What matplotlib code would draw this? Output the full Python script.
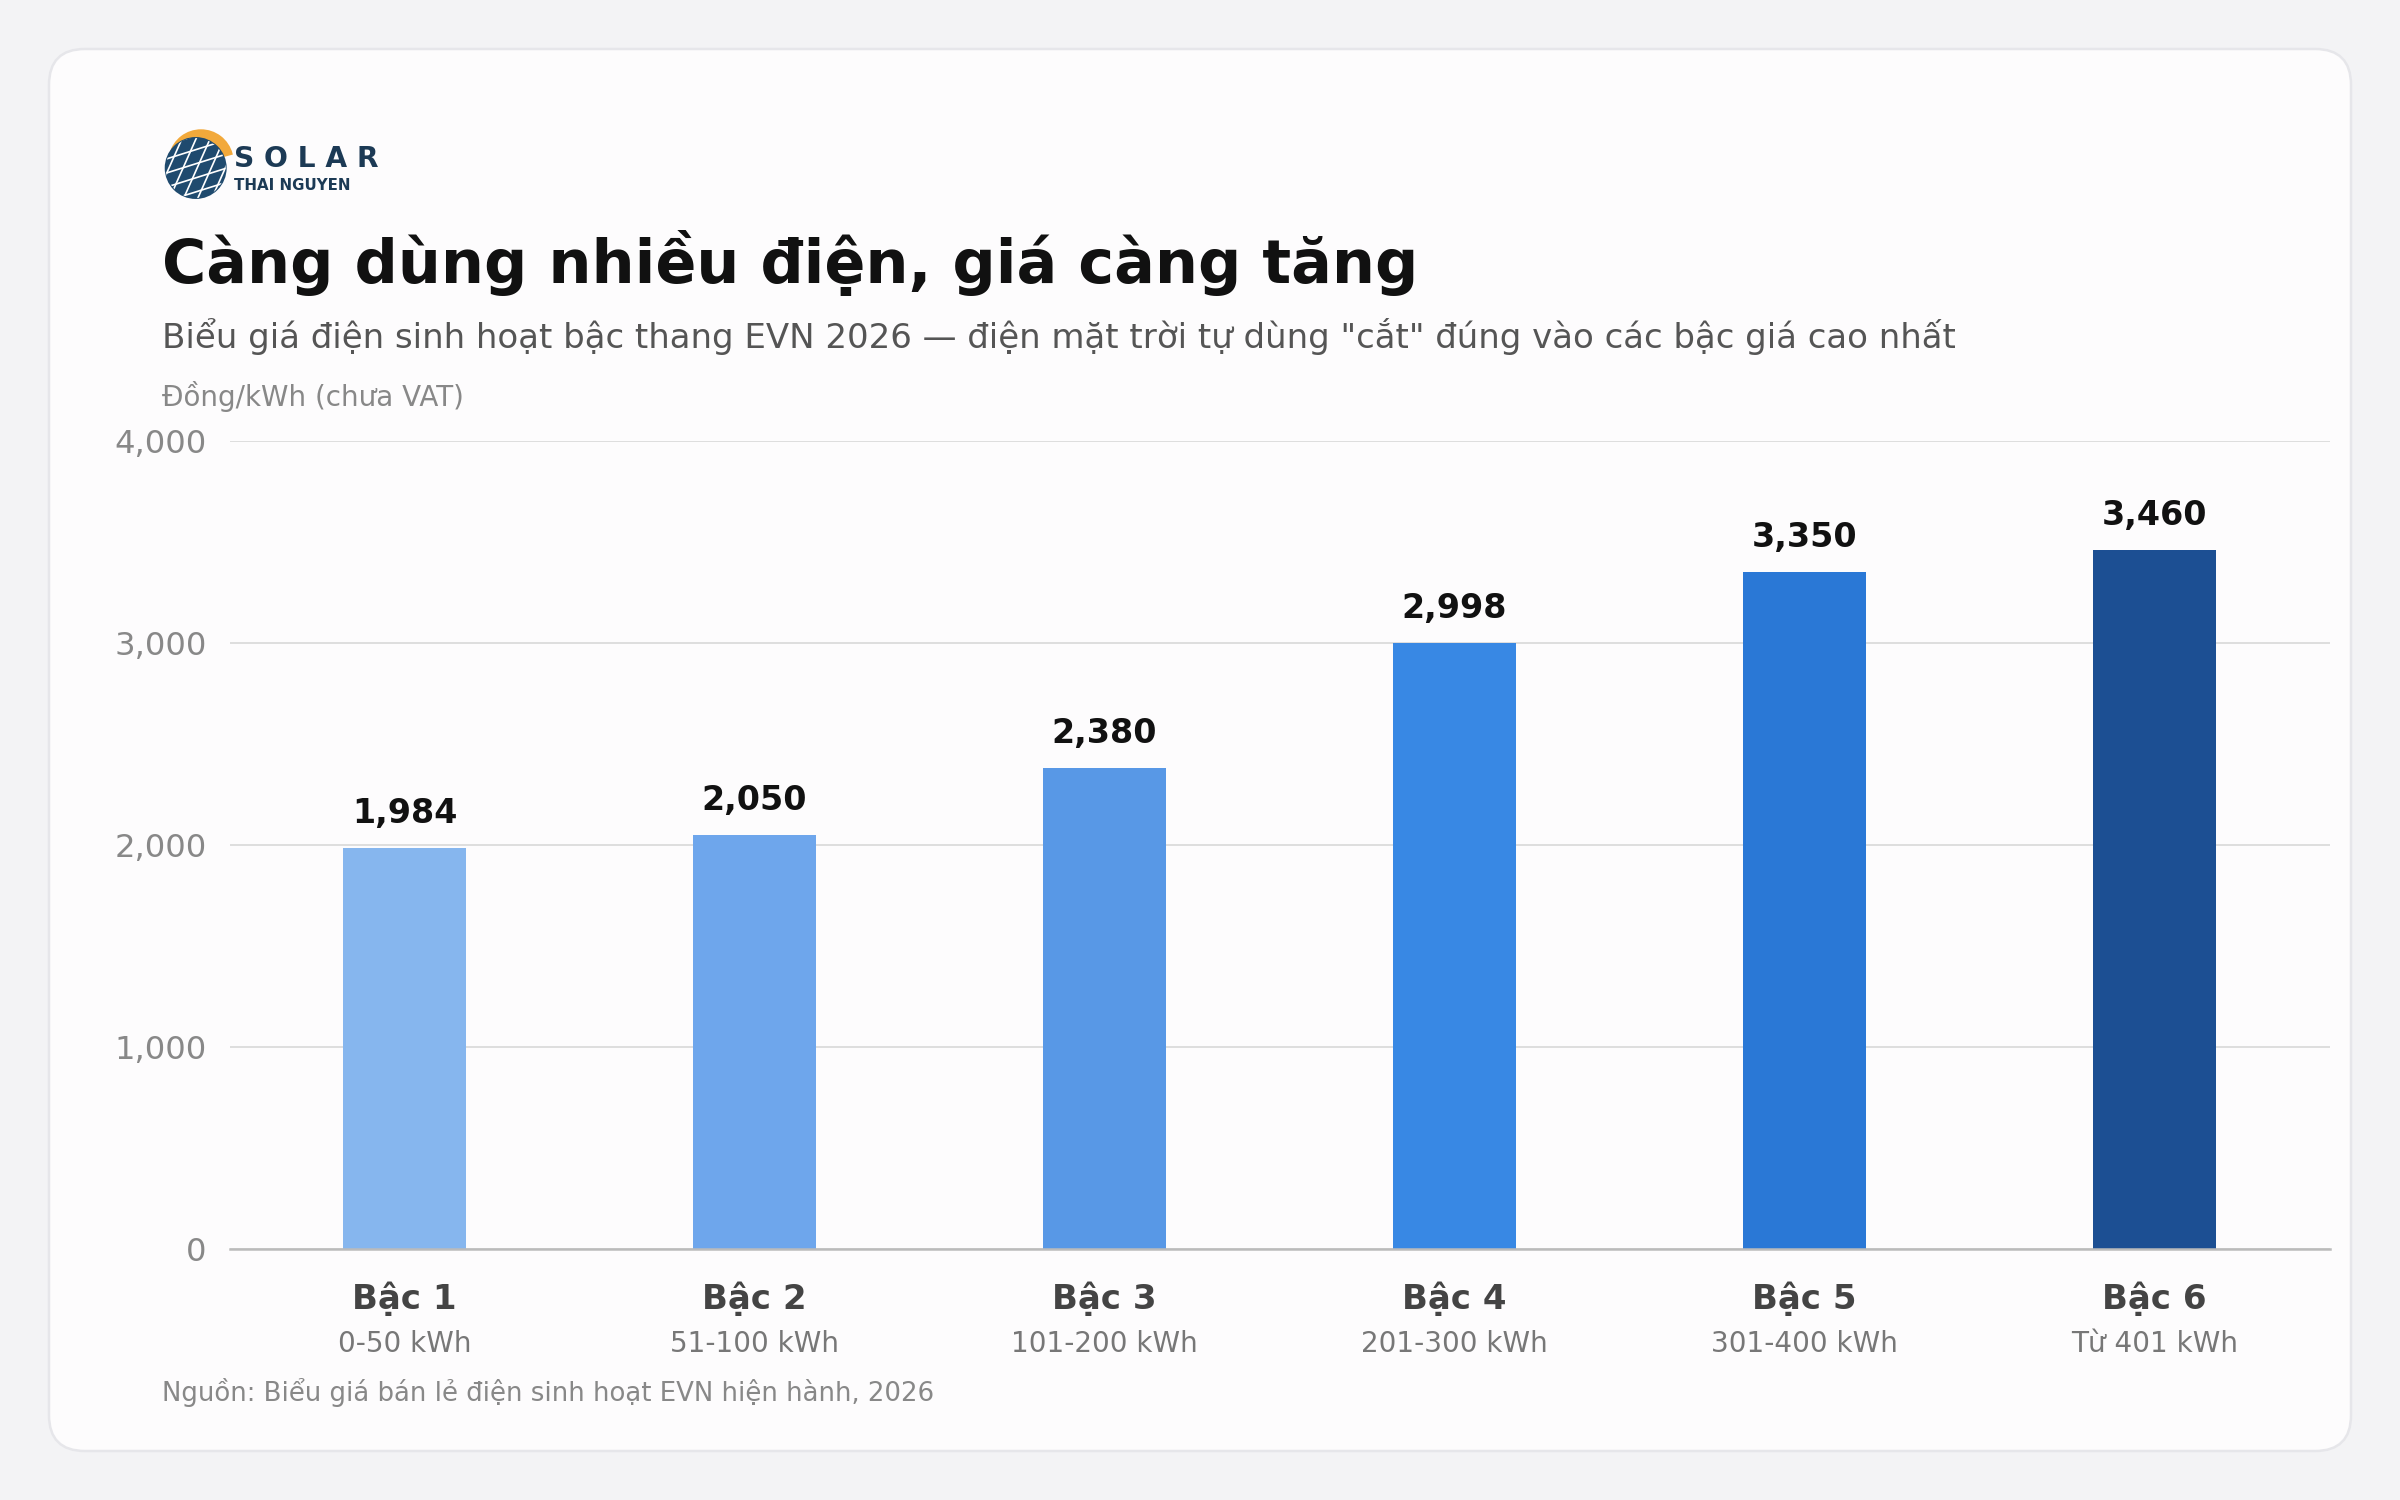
import matplotlib
matplotlib.use("Agg")
import matplotlib.pyplot as plt
from matplotlib.patches import FancyBboxPatch, Circle, Wedge
import numpy as np

categories = ["Bậc 1", "Bậc 2", "Bậc 3", "Bậc 4", "Bậc 5", "Bậc 6"]
ranges = ["0-50 kWh", "51-100 kWh", "101-200 kWh", "201-300 kWh", "301-400 kWh", "Từ 401 kWh"]
prices = [1984, 2050, 2380, 2998, 3350, 3460]
colors = ["#86b6ee", "#6ea6ec", "#5898e6", "#3888e4", "#2a78d6", "#1c4f93"]
yticks = [0, 1000, 2000, 3000, 4000]

W, H = 1568, 980
def fx(x): return x / W
def fy(y): return 1 - y / H

fig = plt.figure(figsize=(16, 10), dpi=150)
fig.patch.set_facecolor("#f3f3f5")
card = FancyBboxPatch((fx(32), fy(948)), fx(1536) - fx(32), fy(32) - fy(948),
                      boxstyle="round,pad=0,rounding_size=0.015", transform=fig.transFigure,
                      facecolor="#fdfcfd", edgecolor="#e6e6ea", linewidth=1.2, mutation_aspect=1.6,
                      zorder=-10)
fig.patches.append(card)

ax = fig.add_axes([fx(150), fy(816), fx(1522) - fx(150), fy(288) - fy(816)])
ax.set_facecolor("none")
x = np.arange(len(categories))
ax.bar(x, prices, width=0.35, color=colors, zorder=3)
ax.set_xlim(-0.5, 5.5)
ax.set_ylim(0, 4000)
ax.set_yticks(yticks)
ax.set_yticklabels([f"{v:,}" for v in yticks], fontsize=15.5, color="#888888")
ax.grid(axis="y", color="#dddddd", linewidth=0.9, zorder=0)
for s in ["top", "right", "left"]:
    ax.spines[s].set_visible(False)
ax.spines["bottom"].set_color("#bbbbbb")
ax.spines["bottom"].set_linewidth(1.2)
ax.spines["bottom"].set_zorder(4)
ax.tick_params(axis="y", length=0, pad=11)
ax.tick_params(axis="x", length=0)
ax.set_xticks([])
for i, v in enumerate(prices):
    ax.text(i, v + 90, f"{v:,}", ha="center", va="bottom", fontsize=16, fontweight="bold", color="#111111")
    ax.text(i, -160, categories[i], ha="center", va="top", fontsize=16.3, fontweight="bold", color="#444444")
    ax.text(i, -400, ranges[i], ha="center", va="top", fontsize=13.4, color="#777777")

fig.text(fx(106), fy(172), "Càng dùng nhiều điện, giá càng tăng", fontsize=29, fontweight="bold",
         color="#111111", va="center")
fig.text(fx(106), fy(220), 'Biểu giá điện sinh hoạt bậc thang EVN 2026 — điện mặt trời tự dùng "cắt" đúng vào các bậc giá cao nhất',
         fontsize=16.3, color="#555555", va="center")
fig.text(fx(106), fy(259), "Đồng/kWh (chưa VAT)", fontsize=13.3, color="#888888", va="center")
fig.text(fx(106), fy(910), "Nguồn: Biểu giá bán lẻ điện sinh hoạt EVN hiện hành, 2026", fontsize=12.5, color="#888888", va="center")

# logo
lax = fig.add_axes([fx(106), fy(130), fx(46), fy(84) - fy(130)])
lax.set_xlim(-1, 1); lax.set_ylim(-1, 1); lax.set_aspect("equal"); lax.axis("off")
lax.add_patch(Wedge((0.1, 0.05), 0.9, 15, 165, color="#f2a93b"))
circ = Circle((-0.05, -0.12), 0.85, color="#1f4a6e")
lax.add_patch(circ)
for t in np.linspace(-1.2, 1.2, 7):
    l1, = lax.plot([t - 0.4, t + 0.4], [-1.0, 0.8], color="white", lw=0.8)
    l2, = lax.plot([-1.0, 0.9], [t - 0.3, t + 0.3], color="white", lw=0.8)
    l1.set_clip_path(circ); l2.set_clip_path(circ)
fig.text(fx(153), fy(104), "S O L A R", fontsize=13.5, fontweight="bold", color="#1c3a55", va="center")
fig.text(fx(153), fy(121), "THAI NGUYEN", fontsize=7.2, fontweight="bold", color="#1c3a55", va="center")

fig.savefig("out.png", dpi=150, facecolor=fig.get_facecolor())
